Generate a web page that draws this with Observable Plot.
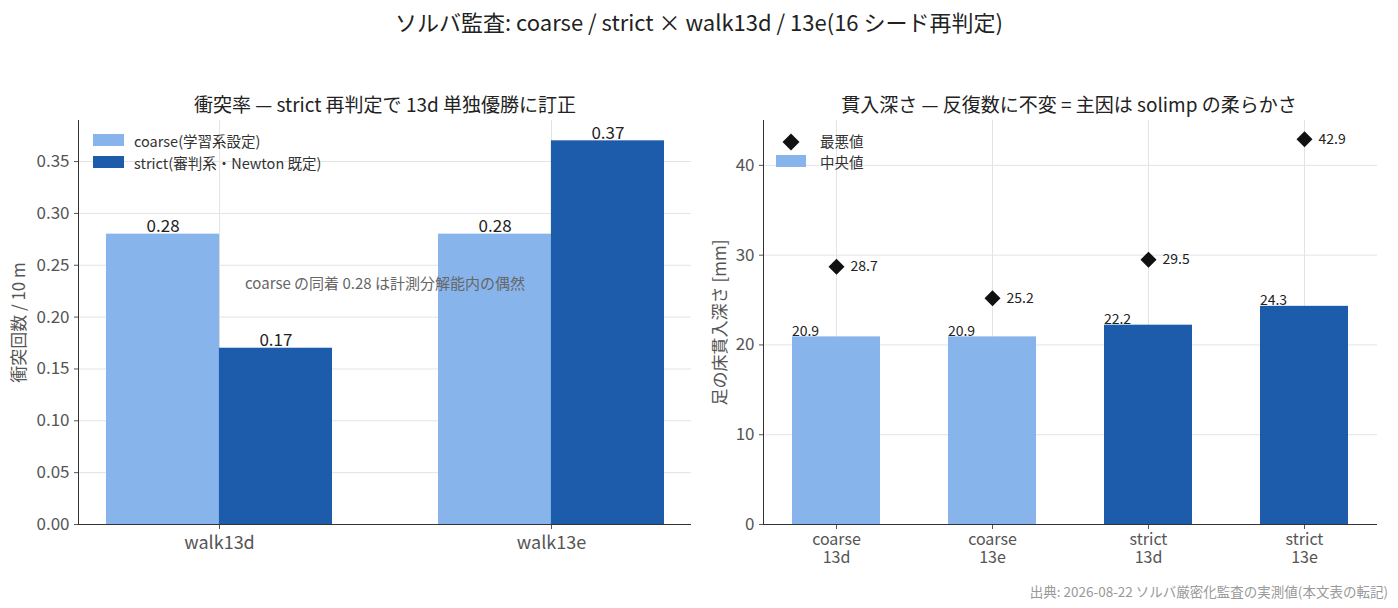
<!DOCTYPE html>
<html><head><meta charset="utf-8">
<script src="https://cdn.jsdelivr.net/npm/d3@7"></script>
<script src="https://cdn.jsdelivr.net/npm/@observablehq/plot@0.6"></script>
<style>
body{margin:0;background:#fff;font-family:"Noto Sans CJK JP","Noto Sans",sans-serif;}
#wrap{position:relative;width:1398px;height:608px;overflow:hidden;}
.abs{position:absolute;white-space:nowrap;}
.ctr{transform:translate(-50%,-50%);}
.lft{transform:translate(0,-50%);}
.sw{position:absolute;}
</style></head><body><div id="wrap"></div>
<script>
// ---- data ----
const walks = ["walk13d", "walk13e"];
const coarseRate = [0.28, 0.28];
const strictRate = [0.17, 0.37];
const solverNames = ["coarse", "coarse", "strict", "strict"];
const walkNames = ["13d", "13e", "13d", "13e"];
const medianDepth = [20.9, 20.9, 22.2, 24.3];
const worstDepth = [28.7, 25.2, 29.5, 42.9];
const seriesLabels = ["coarse(学習系設定)", "strict(審判系・Newton 既定)"];
const LIGHT = "#88b4ec", DARK = "#1c5cab";
const FONT = '"Noto Sans CJK JP","Noto Sans",sans-serif';

const wrap = document.getElementById("wrap");
function addText(txt, x, y, size, color, cls, extra) {
  const d = document.createElement("div");
  d.className = "abs " + cls;
  d.textContent = txt;
  Object.assign(d.style, {left: x + "px", top: y + "px", fontSize: size + "px", color}, extra || {});
  wrap.appendChild(d);
  return d;
}
function addSwatch(x, y, w, h, color) {
  const d = document.createElement("div");
  d.className = "sw";
  Object.assign(d.style, {left: x + "px", top: y + "px", width: w + "px", height: h + "px", background: color});
  wrap.appendChild(d);
}

addText("ソルバ監査: coarse / strict × walk13d / 13e(16 シード再判定)", 699, 21, 22, "#222", "ctr");
addText("衝突率 — strict 再判定で 13d 単独優勝に訂正", 385, 103, 19, "#222", "ctr");
addText("貫入深さ — 反復数に不変 = 主因は solimp の柔らかさ", 1069, 103, 19, "#222", "ctr");

// ---- left chart ----
const rateRows = walks.map((w, i) => ({walk: w, coarse: coarseRate[i], strict: strictRate[i]}));
const W = 699, H = 510, top0 = 80;
const L = {mL: 78, mR: 8, mT: 40, mB: 66, pi: 0.32, po: 0.083};
const stepL = (W - L.mL - L.mR) / (walks.length - L.pi + 2 * L.po);
const bwL = stepL * (1 - L.pi);

const left = Plot.plot({
  width: W, height: H,
  marginLeft: L.mL, marginRight: L.mR, marginTop: L.mT, marginBottom: L.mB,
  style: {fontFamily: FONT, fontSize: "15px", color: "#555", background: "transparent"},
  x: {domain: walks, paddingInner: L.pi, paddingOuter: L.po, label: null},
  y: {domain: [0, 0.3896], ticks: 8, tickFormat: ".2f", label: null},
  marks: [
    Plot.gridY({ticks: 8, stroke: "#e3e3e3", strokeOpacity: 1}),
    Plot.gridX({stroke: "#e3e3e3", strokeOpacity: 1}),
    Plot.barY(rateRows, {x: "walk", y: "coarse", fill: LIGHT, insetRight: bwL / 2}),
    Plot.barY(rateRows, {x: "walk", y: "strict", fill: DARK, insetLeft: bwL / 2}),
    Plot.text(rateRows, {x: "walk", y: "coarse", text: d => d.coarse.toFixed(2), dx: -bwL / 4, dy: -2, lineAnchor: "bottom", fill: "#222", fontSize: 17}),
    Plot.text(rateRows, {x: "walk", y: "strict", text: d => d.strict.toFixed(2), dx: bwL / 4, dy: -2, lineAnchor: "bottom", fill: "#222", fontSize: 17}),
    Plot.text(["coarse の同着 0.28 は計測分解能内の偶然"], {frameAnchor: "middle", dy: -38, fill: "#666", fontSize: 15}),
    Plot.axisY({ticks: 8, tickFormat: ".2f", tickSize: 4, fontSize: 17, label: "衝突回数 / 10 m", labelAnchor: "center", labelArrow: "none", labelOffset: 66}),
    Plot.axisX({tickSize: 5, fontSize: 18, label: null, tickPadding: 7}),
    Plot.frame({anchor: "left", stroke: "#333"}),
    Plot.ruleY([0], {stroke: "#333"})
  ]
});
left.style.position = "absolute"; left.style.left = "0px"; left.style.top = top0 + "px";
wrap.appendChild(left);

// ---- right chart ----
const depthRows = solverNames.map((s, i) => ({key: s + "|" + walkNames[i], solver: s, walk: walkNames[i], median: medianDepth[i], worst: worstDepth[i]}));
const R = {mL: 64, mR: 21, mT: 40, mB: 66, pi: 0.437, po: 0.183};
const diamond = {draw(ctx, size) { const r = Math.sqrt(size / 2); ctx.moveTo(0, -r); ctx.lineTo(r, 0); ctx.lineTo(0, r); ctx.lineTo(-r, 0); ctx.closePath(); }};

const right = Plot.plot({
  width: W, height: H,
  marginLeft: R.mL, marginRight: R.mR, marginTop: R.mT, marginBottom: R.mB,
  style: {fontFamily: FONT, fontSize: "15px", color: "#555", background: "transparent"},
  x: {domain: depthRows.map(d => d.key), paddingInner: R.pi, paddingOuter: R.po, label: null, axis: null},
  y: {domain: [0, 45], ticks: 5, label: null},
  color: {domain: ["coarse", "strict"], range: [LIGHT, DARK]},
  marks: [
    Plot.gridY({ticks: 5, stroke: "#e3e3e3", strokeOpacity: 1}),
    Plot.gridX({stroke: "#e3e3e3", strokeOpacity: 1}),
    Plot.barY(depthRows, {x: "key", y: "median", fill: "solver"}),
    Plot.text(depthRows, {x: "key", y: "median", text: d => d.median.toFixed(1), dx: -31, dy: -1, lineAnchor: "bottom", fill: "#222", fontSize: 14}),
    Plot.dot(depthRows, {x: "key", y: "worst", symbol: diamond, r: 6.4, fill: "#111", stroke: "none"}),
    Plot.text(depthRows, {x: "key", y: "worst", text: d => d.worst.toFixed(1), dx: 14, textAnchor: "start", fill: "#222", fontSize: 14}),
    Plot.axisY({ticks: 5, tickSize: 4, fontSize: 17, label: "足の床貫入深さ [mm]", labelAnchor: "center", labelArrow: "none", labelOffset: 50}),
    Plot.ruleX(depthRows, {x: "key", y1: 0, y2: 0, insetBottom: -5, stroke: "#555"}),
    Plot.text(depthRows, {x: "key", text: "solver", frameAnchor: "bottom", lineAnchor: "top", dy: 9, fontSize: 16, fill: "#555"}),
    Plot.text(depthRows, {x: "key", text: "walk", frameAnchor: "bottom", lineAnchor: "top", dy: 27, fontSize: 16, fill: "#555"}),
    Plot.frame({anchor: "left", stroke: "#333"}),
    Plot.ruleY([0], {stroke: "#333"})
  ]
});
right.style.position = "absolute"; right.style.left = "699px"; right.style.top = top0 + "px";
wrap.appendChild(right);

// ---- legends ----
addSwatch(93, 134, 31, 12, LIGHT);
addSwatch(93, 156, 31, 12, DARK);
addText(seriesLabels[0], 134, 140, 14.5, "#333", "lft");
addText(seriesLabels[1], 134, 162, 14.5, "#333", "lft");
const dia = document.createElement("div");
Object.assign(dia.style, {position: "absolute", left: "785px", top: "136px", width: "12px", height: "12px", background: "#111", transform: "rotate(45deg)"});
wrap.appendChild(dia);
addSwatch(776, 155, 30, 12, LIGHT);
addText("最悪値", 820, 140, 14.5, "#333", "lft");
addText("中央値", 820, 161, 14.5, "#333", "lft");

addText("出典: 2026-08-22 ソルバ厳密化監査の実測値(本文表の転記)", 1388, 591, 13.5, "#999", "", {transform: "translate(-100%,-50%)"});
</script></body></html>
